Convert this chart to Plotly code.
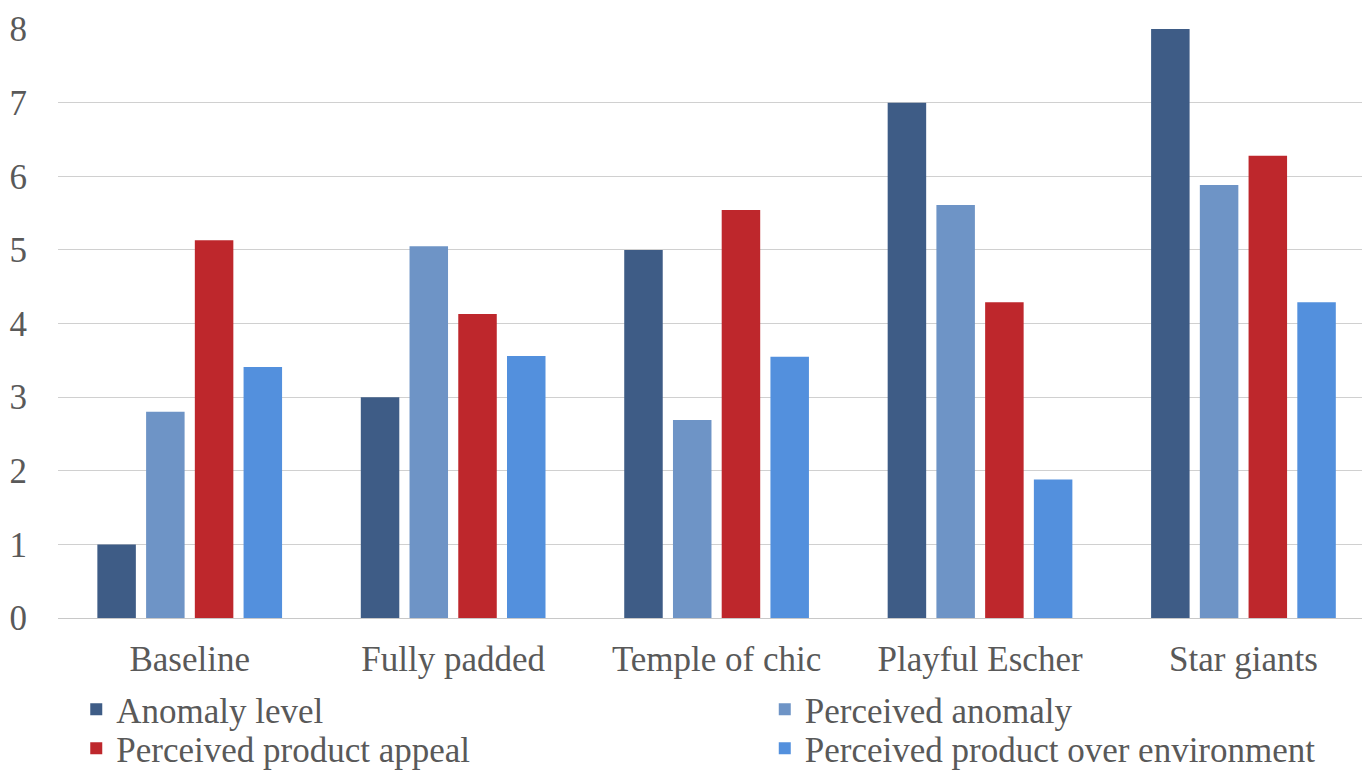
import plotly.graph_objects as go

categories = ["Baseline", "Fully padded", "Temple of chic", "Playful Escher", "Star giants"]
anomaly_level = [1, 3, 5, 7, 8]
perceived_anomaly = [2.8, 5.05, 2.69, 5.61, 5.88]
perceived_appeal = [5.13, 4.13, 5.54, 4.29, 6.28]
product_over_env = [3.41, 3.56, 3.55, 1.88, 4.29]

# (name, values, colour, legend id)
series = [
    ("Anomaly level", anomaly_level, "#3E5C86", "legend"),
    ("Perceived anomaly", perceived_anomaly, "#6E94C6", "legend2"),
    ("Perceived product appeal", perceived_appeal, "#BE272C", "legend3"),
    ("Perceived product over environment", product_over_env, "#5390DD", "legend4"),
]

font_family = "Liberation Serif, Times New Roman, serif"
text_color = "#595959"

fig = go.Figure()
for name, vals, color, leg in series:
    fig.add_trace(go.Bar(name=name, x=categories, y=vals, marker_color=color,
                         marker_line_width=0, legend=leg))

# Legend entries laid out as a 2x2 grid under the axis
legend_common = dict(orientation="v", xref="paper", yref="container",
                     yanchor="top", xanchor="left",
                     font=dict(size=35, color=text_color, family=font_family),
                     itemwidth=30, tracegroupgap=0, bgcolor="rgba(0,0,0,0)")
col1, col2 = 0.014, 0.542
row1, row2 = 0.1192, 0.0685

fig.update_layout(
    width=1362, height=772,
    margin=dict(l=58, r=0, t=29, b=154),
    paper_bgcolor="white", plot_bgcolor="white",
    barmode="group", bargap=0.26, bargroupgap=0.21,
    font=dict(family=font_family, size=35, color=text_color),
    showlegend=True,
    legend=dict(x=col1, y=row1, **legend_common),
    legend2=dict(x=col2, y=row1, **legend_common),
    legend3=dict(x=col1, y=row2, **legend_common),
    legend4=dict(x=col2, y=row2, **legend_common),
)
fig.update_xaxes(showgrid=False, showline=True, linecolor="#c8c8c8", linewidth=1,
                 ticks="", ticklabelstandoff=10, automargin=False,
                 range=[-0.5, 4.45],
                 tickfont=dict(size=35, color=text_color))
fig.update_yaxes(range=[0, 8], dtick=1, showgrid=True, gridcolor="#d0d0d0", gridwidth=1,
                 zeroline=False, showline=False, ticks="", automargin=False,
                 ticklabelstandoff=30, tickfont=dict(size=35, color=text_color))

fig.write_html("out.html")
